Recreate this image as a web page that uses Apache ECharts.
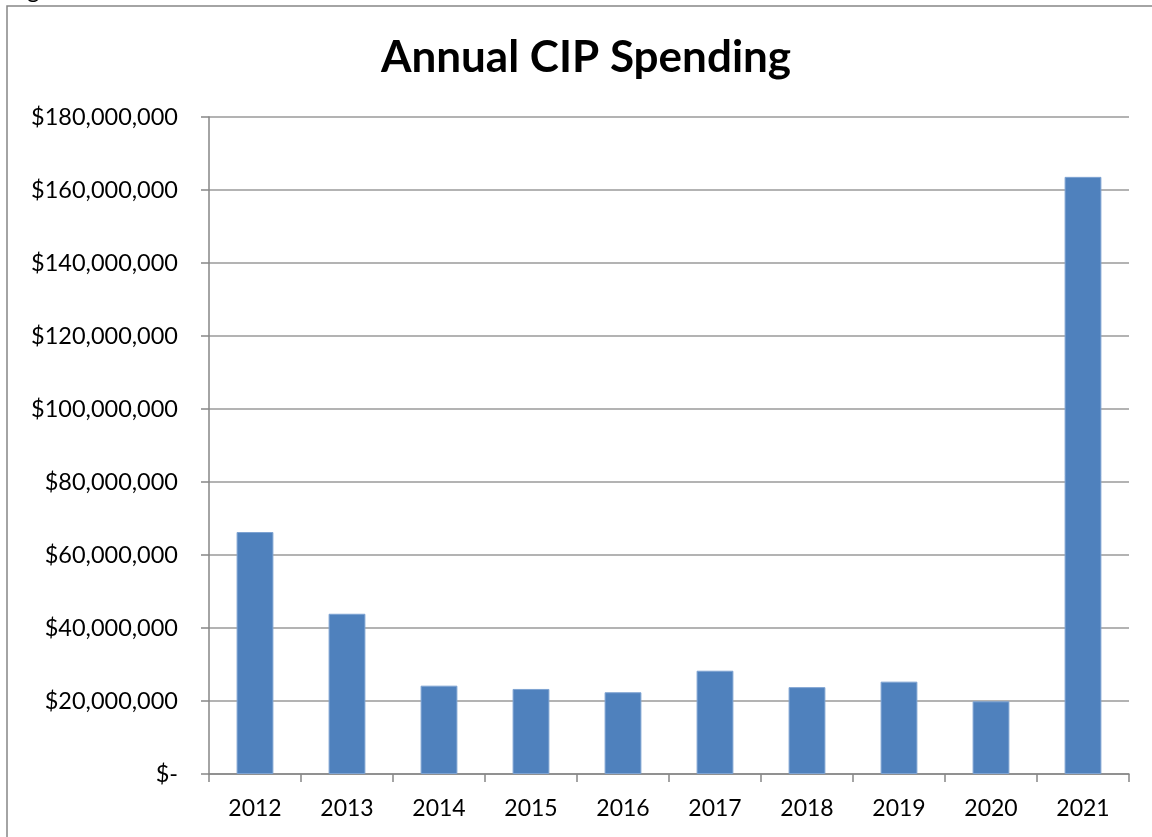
<!DOCTYPE html>
<html>
<head>
<meta charset="utf-8">
<script src="https://cdn.jsdelivr.net/npm/echarts@6/dist/echarts.min.js"></script>
<style>
html,body{margin:0;padding:0;background:#fff;}
#chart{width:1152px;height:837px;}
</style>
</head>
<body>
<div id="chart"></div>
<script>
const titleText = 'Annual CIP Spending';
const years = ['2012','2013','2014','2015','2016','2017','2018','2019','2020','2021'];
const spending = [66300000, 43900000, 24200000, 23300000, 22400000, 28300000, 23800000, 25300000, 19900000, 163600000];
const yMin = 0;
const yMax = 180000000;
const yStep = 20000000;

const chart = echarts.init(document.getElementById('chart'));
const fmt = v => v === 0 ? '$-' : '$' + v.toLocaleString('en-US');
chart.setOption({
  animation: false,
  backgroundColor: '#fff',
  title: {
    text: titleText,
    left: 581,
    textAlign: 'center',
    top: 31,
    textStyle: {fontFamily: 'Lato', fontWeight: 'bold', fontSize: 44, color: '#000'}
  },
  graphic: [
    {type: 'rect', shape: {x: 7, y: 6, width: 1160, height: 850}, style: {fill: 'none', stroke: '#868686', lineWidth: 1.5}, silent: true},
    {type: 'text', x: 27, y: -22, style: {text: 'g', font: '24px Lato', fill: '#000'}, silent: true}
  ],
  grid: {left: 209, right: 23, top: 117, bottom: 63, containLabel: false},
  xAxis: {
    type: 'category',
    data: years,
    axisLine: {lineStyle: {color: '#868686', width: 1.5}},
    axisTick: {show: true, length: 8, alignWithLabel: false, lineStyle: {color: '#868686', width: 1.5}},
    axisLabel: {fontFamily: 'Lato', fontSize: 23, color: '#000', margin: 23},
    splitLine: {show: false}
  },
  yAxis: {
    type: 'value',
    min: yMin, max: yMax, interval: yStep,
    axisLine: {show: true, lineStyle: {color: '#868686', width: 1.5}},
    axisTick: {show: true, length: 8, lineStyle: {color: '#868686', width: 1.5}},
    axisLabel: {fontFamily: 'Lato', fontSize: 23.5, color: '#000', margin: 31, formatter: fmt},
    splitLine: {show: true, lineStyle: {color: '#9a9a9a', width: 1.5}}
  },
  series: [{
    type: 'bar',
    data: spending,
    barWidth: '40%',
    itemStyle: {color: '#4F81BD', borderColor: '#7ea3d2', borderWidth: 1}
  }]
});
</script>
</body>
</html>
